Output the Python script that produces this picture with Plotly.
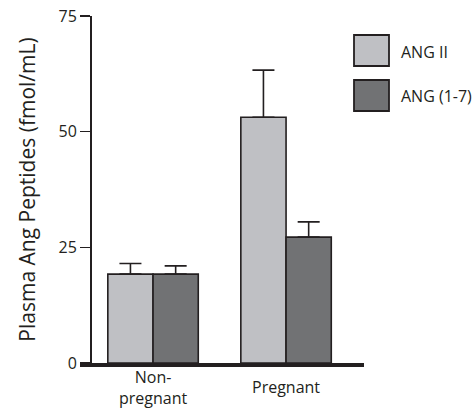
import plotly.graph_objects as go

categories = ["Non-pregnant", "Pregnant"]
category_labels = ["Non-<br>pregnant", "Pregnant"]
series_names = ["ANG II", "ANG (1-7)"]
ang2_values = [19.2, 53.1]
ang2_errors = [2.3, 10.2]
ang17_values = [19.2, 27.2]
ang17_errors = [1.8, 3.3]
y_ticks = [0, 25, 50, 75]

colors = ["#bfc0c4", "#717274"]
outline = "#231f20"
FONT = "Open Sans"

W, H = 476, 409
L, R, T, B = 80, 112, 16, 46
pw = W - L - R
ph = H - T - B

def px_x(p):
    return (p - L) / pw

def px_y(p):
    return (H - B - p) / ph

fig = go.Figure()
for name, vals, errs, col in [
    (series_names[0], ang2_values, ang2_errors, colors[0]),
    (series_names[1], ang17_values, ang17_errors, colors[1]),
]:
    fig.add_trace(go.Bar(
        x=categories, y=vals, name=name,
        marker=dict(color=col, line=dict(color=outline, width=1.6)),
        error_y=dict(type="data", array=errs, arrayminus=[0] * len(errs),
                     symmetric=False, color=outline, thickness=1.6, width=11),
        showlegend=False,
    ))

fig.update_layout(
    width=W, height=H, autosize=False,
    margin=dict(l=L, r=R, t=T, b=B, pad=0),
    paper_bgcolor="white", plot_bgcolor="white",
    barmode="group", bargap=0.32, bargroupgap=0,
    font=dict(family=FONT, color="#231f20"),
    xaxis=dict(
        range=[-0.474 - (10 / 133), 1.586],
        showticklabels=False, ticks="", showgrid=False,
        showline=True, linecolor=outline, linewidth=3.5,
        zeroline=False, fixedrange=True, automargin=False,
    ),
    yaxis=dict(
        range=[0, 75], tickvals=y_ticks, ticks="outside", ticklen=10,
        tickwidth=1.6, tickcolor=outline,
        showgrid=False, zeroline=False,
        showline=True, linecolor=outline, linewidth=1.6,
        anchor="free", position=px_x(90), automargin=False,
        ticklabeloverflow="allow",
        tickfont=dict(size=16, family=FONT, color="#231f20"),
        title=dict(text="Plasma Ang Peptides (fmol/mL)",
                   font=dict(size=21, family=FONT, color="#231f20"),
                   standoff=15),
    ),
)

for cat, lab in zip(categories, category_labels):
    fig.add_annotation(x=cat, xref="x", y=px_y(387), yref="paper",
                       text=lab, showarrow=False, xanchor="center",
                       yanchor="middle",
                       font=dict(size=16, family=FONT, color="#231f20"))

box_tops = [35, 80]
for i, (name, col) in enumerate(zip(series_names, colors)):
    top = box_tops[i]
    bot = top + 31
    fig.add_shape(type="rect", xref="paper", yref="paper",
                  x0=px_x(354), x1=px_x(389), y0=px_y(bot), y1=px_y(top),
                  fillcolor=col, line=dict(color=outline, width=1.8))
    fig.add_annotation(x=px_x(399), xref="paper", y=px_y((top + bot) / 2 + 1),
                       yref="paper", text=name, showarrow=False,
                       xanchor="left", yanchor="middle",
                       font=dict(size=16, family=FONT, color="#231f20"))

fig.write_html(
    "out.html",
    config={"displayModeBar": False, "staticPlot": True},
    post_script="document.body.style.margin='0';document.body.style.overflow='hidden';",
)
